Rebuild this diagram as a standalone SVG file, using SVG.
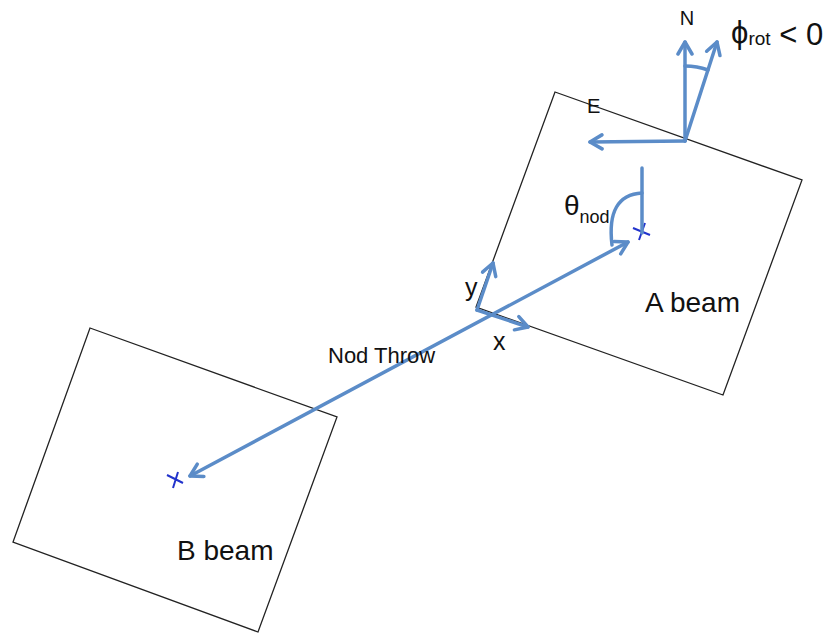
<svg xmlns="http://www.w3.org/2000/svg" width="831" height="634" viewBox="0 0 831 634">
<style>
.box{fill:none;stroke:#222;stroke-width:1.3}
.ar{fill:none;stroke:#5b8cc8;stroke-width:3.5;stroke-linecap:round;stroke-linejoin:round}
.cr{stroke:#2233cc;stroke-width:2;fill:none}
text{font-family:"Liberation Sans",Arial,sans-serif;fill:#111}
</style>
<defs>
<marker id="ah" markerUnits="userSpaceOnUse" viewBox="-15 -9 18 18" markerWidth="18" markerHeight="18" refX="0" refY="0" orient="auto-start-reverse">
<path d="M-12,-7 L0,0 L-12,7" fill="none" stroke="#5b8cc8" stroke-width="3.5" stroke-linecap="round" stroke-linejoin="round"/>
</marker>
</defs>
<rect width="831" height="634" fill="#fff"/>
<g id="a-beam">
<polygon class="box" points="555,92 802,180 723,395 476,307"/>
<path class="cr" d="M633,228 L650,235 M645,223 L639,240"/>
<text x="645" y="312" font-size="28">A beam</text>
</g>
<g id="b-beam">
<polygon class="box" points="90,328 337,417 258,632 13,542"/>
<path class="cr" d="M167,475 L183,483 M178,472 L173,488"/>
<text x="177" y="560" font-size="28">B beam</text>
</g>
<g id="connectors">
<line class="ar" x1="190" y1="476" x2="628" y2="242" marker-start="url(#ah)" marker-end="url(#ah)"/>
<line class="ar" x1="477" y1="310" x2="493" y2="263" marker-end="url(#ah)"/>
<line class="ar" x1="477" y1="310" x2="528" y2="327" marker-end="url(#ah)"/>
<line class="ar" x1="685" y1="141" x2="685" y2="42" marker-end="url(#ah)"/>
<line class="ar" x1="685" y1="141" x2="717" y2="42" marker-end="url(#ah)"/>
<line class="ar" x1="685" y1="141" x2="590" y2="142" marker-end="url(#ah)"/>
<line class="ar" x1="642" y1="168" x2="642" y2="233" stroke-width="3"/>
<path class="ar" stroke-width="3" d="M642,193 Q606,195 612,245"/>
<path class="ar" stroke-width="3" d="M685,66 Q697,66 708,70"/>
</g>
<g id="labels">
<text x="687" y="25" font-size="20" text-anchor="middle">N</text>
<text x="731" y="45" font-size="31"><tspan dy="-2">ϕ</tspan><tspan font-size="19" dy="2">rot</tspan> &lt; 0</text>
<text x="587" y="113" font-size="20">E</text>
<text x="564" y="215" font-size="28">θ<tspan font-size="18" dy="8">nod</tspan></text>
<text x="328" y="363" font-size="22">Nod Throw</text>
<text x="465" y="296" font-size="25">y</text>
<text x="493" y="350" font-size="25">x</text>
</g>
</svg>
